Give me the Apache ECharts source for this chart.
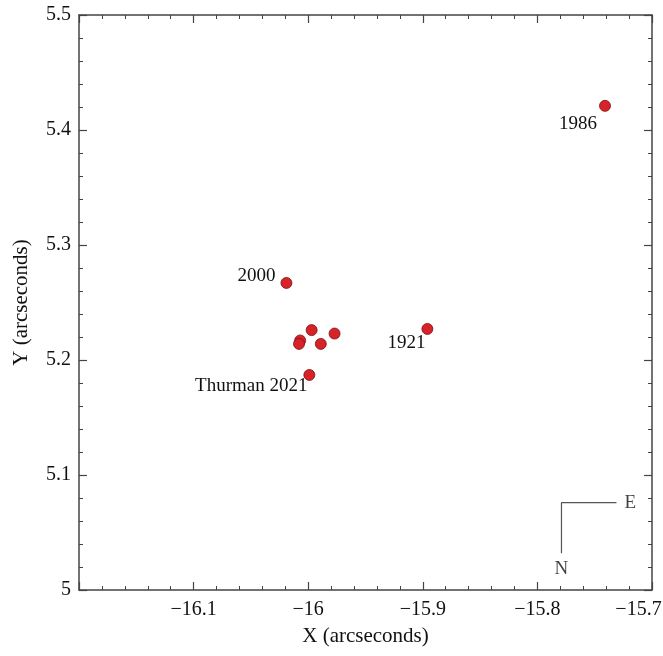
<!DOCTYPE html>
<html>
<head>
<meta charset="utf-8">
<script src="https://cdn.jsdelivr.net/npm/echarts@6/dist/echarts.min.js"></script>
<style>
  html, body { margin: 0; padding: 0; background: #fff; }
  #chart { width: 663px; height: 656px; }
</style>
</head>
<body>
<div id="chart"></div>
<script>
// positions of the companion, arcseconds
var xs = [-15.741, -16.019, -15.997, -15.977, -15.989, -16.007, -16.008, -15.999, -15.896];
var ys = [5.421, 5.267, 5.226, 5.223, 5.214, 5.217, 5.214, 5.187, 5.227];
var names = ['1986', '2000', '', '', '', '', '', 'Thurman 2021', '1921'];

// compass arms: E end, corner, N end
var compassX = [-15.731, -15.779, -15.779];
var compassY = [5.076, 5.076, 5.032];
var compassText = ['E', '', 'N'];

var font = 'Liberation Serif';
var axisColor = '#444';
var textColor = '#111';

// label offsets so text sits like the original
var labelOffset = {
  '1986': [3, 18],
  '2000': [0, -7],
  '1921': [9, 14],
  'Thurman 2021': [9, 11]
};

function minus(v) {
  return String(v).replace('-', '\u2212');
}

var points = xs.map(function (x, i) {
  var d = { value: [x, ys[i]] };
  if (names[i]) {
    d.label = {
      show: true,
      formatter: names[i],
      position: 'left',
      distance: 5,
      offset: labelOffset[names[i]]
    };
  }
  return d;
});

var compassLine = compassX.map(function (x, i) { return [x, compassY[i]]; });
var compassLabels = compassX.map(function (x, i) {
  return {
    value: [x, compassY[i]],
    label: {
      show: !!compassText[i],
      formatter: compassText[i],
      position: i === 0 ? 'right' : 'bottom',
      distance: i === 0 ? 8 : 6
    }
  };
});

var myChart = echarts.init(document.getElementById('chart'));

var tickCommon = {
  axisLine: { show: true, lineStyle: { color: axisColor, width: 1.5 } },
  axisTick: { show: true, inside: true, length: 8, lineStyle: { color: axisColor, width: 1.2 } },
  minorTick: { show: true, splitNumber: 5, length: 4, lineStyle: { color: axisColor, width: 1 } },
  splitLine: { show: false }
};

var option = {
  animation: false,
  backgroundColor: '#fff',
  grid: { left: 79, right: 11, top: 15, bottom: 66, outerBoundsMode: 'none' },
  xAxis: [
    Object.assign({
      type: 'value',
      min: -16.2,
      max: -15.7,
      interval: 0.1,
      name: 'X (arcseconds)',
      nameLocation: 'middle',
      nameGap: 36,
      nameTextStyle: { fontFamily: font, fontSize: 21, color: textColor },
      axisLabel: {
        showMinLabel: false,
        margin: 10,
        fontFamily: font,
        fontSize: 20,
        color: textColor,
        // the last label is pushed left so it stays inside the picture
        formatter: function (v) {
          var s = minus(+v.toFixed(1));
          return v >= -15.7001 ? '{last|' + s + '}' : s;
        },
        rich: {
          last: { fontFamily: font, fontSize: 20, color: textColor, padding: [0, 27, 0, 0] }
        }
      }
    }, tickCommon),
    Object.assign({
      type: 'value',
      position: 'top',
      min: -16.2,
      max: -15.7,
      interval: 0.1,
      axisLabel: { show: false }
    }, tickCommon)
  ],
  yAxis: [
    Object.assign({
      type: 'value',
      min: 5,
      max: 5.5,
      interval: 0.1,
      name: 'Y (arcseconds)',
      nameLocation: 'middle',
      nameGap: 47,
      nameTextStyle: { fontFamily: font, fontSize: 21, color: textColor },
      axisLabel: {
        margin: 8,
        fontFamily: font,
        fontSize: 20,
        color: textColor,
        formatter: function (v) { return String(+v.toFixed(1)); }
      }
    }, tickCommon),
    Object.assign({
      type: 'value',
      position: 'right',
      min: 5,
      max: 5.5,
      interval: 0.1,
      axisLabel: { show: false }
    }, tickCommon)
  ],
  series: [
    {
      name: 'compass',
      type: 'line',
      data: compassLine,
      symbol: 'none',
      silent: true,
      lineStyle: { color: '#555', width: 1.2 }
    },
    {
      name: 'compassText',
      type: 'scatter',
      data: compassLabels,
      symbolSize: 0,
      silent: true,
      label: { fontFamily: font, fontSize: 19, color: textColor }
    },
    {
      name: 'positions',
      type: 'scatter',
      data: points,
      symbolSize: 11,
      itemStyle: { color: '#d7222a', borderColor: '#7a1010', borderWidth: 0.8, opacity: 1 },
      label: { fontFamily: font, fontSize: 19, color: textColor }
    }
  ]
};

myChart.setOption(option);
</script>
</body>
</html>
